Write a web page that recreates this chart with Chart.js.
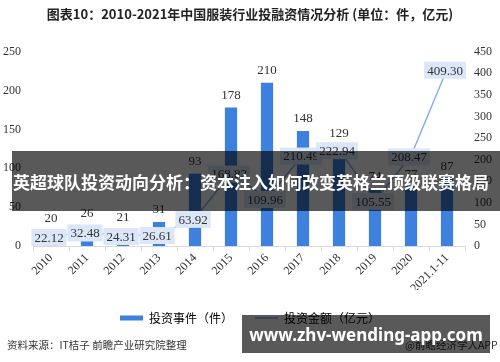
<!DOCTYPE html>
<html><head><meta charset="utf-8">
<script src="https://cdn.jsdelivr.net/npm/chart.js@4/dist/chart.umd.min.js"></script>
<style>
html,body{margin:0;padding:0;background:#fff;}
#wrap{position:relative;width:500px;height:362px;overflow:hidden;}
#c{position:absolute;left:0;top:0;}
.src{position:absolute;font-family:"Noto Sans CJK SC","Noto Sans",sans-serif;font-size:10.5px;color:#333;white-space:nowrap;}
.banner{position:absolute;background:rgba(0,0,0,0.65);color:#fff;font-weight:bold;white-space:nowrap;display:flex;align-items:center;}
</style></head>
<body><div id="wrap">
<canvas id="c" width="500" height="362"></canvas>
<div class="src" style="left:7px;top:337px;">资料来源：IT桔子 前瞻产业研究院整理</div>
<div class="src" style="left:405px;top:337px;">@前瞻经济学人APP</div>
<div class="banner" style="left:12px;top:151px;width:488px;height:60px;font-family:'Noto Sans CJK SC',sans-serif;font-size:17px;justify-content:flex-start;padding-left:1px;box-sizing:border-box;">英超球队投资动向分析：资本注入如何改变英格兰顶级联赛格局</div>
<div class="banner" style="left:242px;top:315px;width:248px;height:38px;font-family:'Noto Sans','DejaVu Sans',sans-serif;font-size:17px;justify-content:center;">www.zhv-wending-app.com</div>
</div>
<script>
const categories = ['2010','2011','2012','2013','2014','2015','2016','2017','2018','2019','2020','2021.1-11'];
const investEvents = [20,26,21,31,93,178,210,148,129,74,77,87];
const investAmount = [22.12,32.48,24.31,26.61,63.92,168.82,109.96,210.49,222.94,105.55,208.47,409.30];
const leftAxisMax = 250, rightAxisMax = 450, tickStep = 50;
const titleText = '图表10：2010-2021年中国服装行业投融资情况分析 (单位：件，亿元)';
const seriesNames = ['投资事件（件）','投资金额（亿元）'];

const serif = "'Liberation Serif','Times New Roman',serif";
const barColor = 'rgb(62,128,222)';
const lineColor = 'rgb(132,175,238)';

const labelPlugin = {
  id: 'valueLabels',
  afterDatasetsDraw(chart) {
    const ctx = chart.ctx;
    ctx.save();
    ctx.font = '13px ' + serif;
    ctx.textAlign = 'center';
    ctx.textBaseline = 'middle';
    const barMeta = chart.getDatasetMeta(0);
    barMeta.data.forEach((el, i) => {
      ctx.fillStyle = '#333';
      ctx.fillText(String(investEvents[i]), el.x, el.y - 12);
    });
    const lineMeta = chart.getDatasetMeta(1);
    lineMeta.data.forEach((el, i) => {
      const t = investAmount[i].toFixed(2);
      const w = ctx.measureText(t).width + 6;
      const h = 17;
      const cx = el.x - 2, cy = el.y + 1;
      ctx.fillStyle = 'rgb(219,231,248)';
      ctx.fillRect(cx - w/2, cy - h/2, w, h);
      ctx.fillStyle = '#333';
      ctx.fillText(t, cx, cy + 1);
    });
    ctx.restore();
  }
};

new Chart(document.getElementById('c'), {
  data: {
    labels: categories,
    datasets: [
      { type: 'bar', label: seriesNames[0], data: investEvents, yAxisID: 'y',
        backgroundColor: barColor, barPercentage: 0.34, categoryPercentage: 1, order: 1 },
      { type: 'line', label: seriesNames[1], data: investAmount, yAxisID: 'y1',
        borderColor: lineColor, borderWidth: 1.5, pointRadius: 0, tension: 0, fill: false, order: 0 }
    ]
  },
  options: {
    responsive: false,
    animation: false,
    layout: { padding: { left: 0, right: 0, top: 0, bottom: 28 } },
    plugins: {
      title: { display: true, text: titleText, color: '#222',
        font: { family: "'Noto Sans CJK SC',sans-serif", size: 13, weight: 'bold' },
        padding: { top: 6, bottom: 30 } },
      legend: { position: 'bottom',
        labels: { usePointStyle: true, pointStyleWidth: 23, boxWidth: 23, boxHeight: 5,
          color: '#404040', padding: 22,
          font: { family: "'Noto Sans CJK SC',sans-serif", size: 12 },
          generateLabels(chart) {
            return chart.data.datasets.map((ds, i) => ({
              text: ds.label,
              fillStyle: i === 0 ? barColor : 'rgba(0,0,0,0)',
              strokeStyle: i === 0 ? barColor : lineColor,
              lineWidth: i === 0 ? 0 : 1.5,
              pointStyle: i === 0 ? 'rect' : 'line',
              datasetIndex: i, hidden: false
            }));
          }
        } },
      tooltip: { enabled: false }
    },
    scales: {
      x: {
        grid: { display: true, drawOnChartArea: false, drawTicks: true, tickLength: 5, color: '#d9d9d9', offset: true },
        border: { display: true, color: '#d9d9d9' },
        ticks: { color: '#333', font: { family: serif, size: 12 }, minRotation: 45, maxRotation: 45, padding: 0 },
        afterFit(s) { s.height = 44; }
      },
      y: {
        position: 'left', min: 0, max: leftAxisMax,
        grid: { display: false, drawTicks: false }, border: { display: false },
        ticks: { stepSize: tickStep, color: '#333', font: { family: serif, size: 12 }, padding: 12 },
        afterFit(s) { s.width = 33; }
      },
      y1: {
        position: 'right', min: 0, max: rightAxisMax,
        grid: { display: false, drawTicks: false }, border: { display: false },
        ticks: { stepSize: tickStep, color: '#333', font: { family: serif, size: 12 }, padding: 9 },
        afterFit(s) { s.width = 35; }
      }
    }
  },
  plugins: [labelPlugin]
});
</script>
</body></html>
